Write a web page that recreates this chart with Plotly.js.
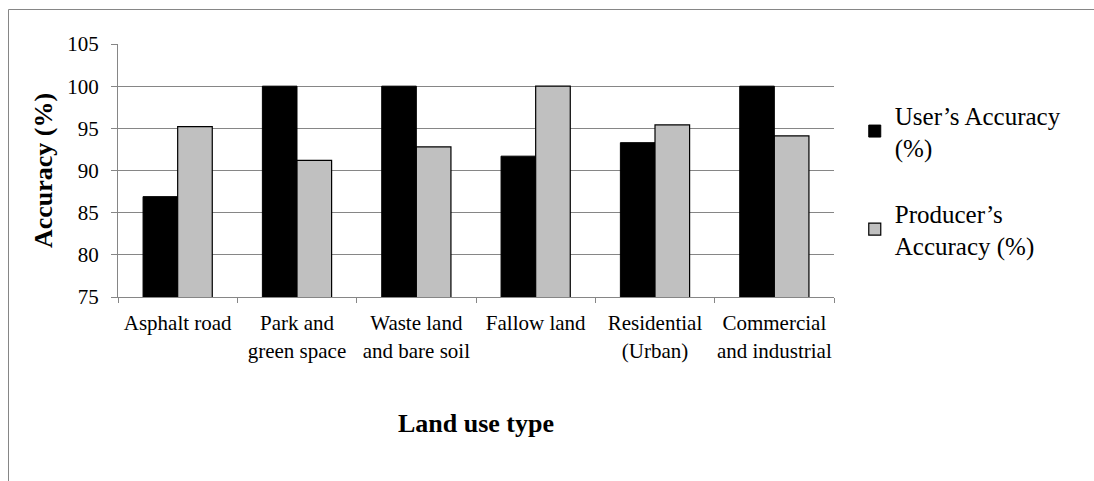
<!DOCTYPE html>
<html>
<head>
<meta charset="utf-8">
<script src="https://cdn.plot.ly/plotly-3.0.1.min.js"></script>
<style>
html,body{margin:0;padding:0;background:#fff;}
#chart{width:1094px;height:481px;}
</style>
</head>
<body>
<div id="chart"></div>
<script>
const categories = ["Asphalt road", "Park and<br>green space", "Waste land<br>and bare soil", "Fallow land", "Residential<br>(Urban)", "Commercial<br>and industrial"];
const usersAccuracy = [86.9, 100, 100, 91.7, 93.3, 100];
const producersAccuracy = [95.2, 91.2, 92.8, 100, 95.4, 94.1];
const seriesNames = ["User’s Accuracy<br>(%)", "Producer’s<br>Accuracy (%)"];

const L = 118, R = 260, T = 44, B = 184, W = 1094, H = 481;
const pw = W - L - R, ph = H - T - B;
const font = "Liberation Serif";

const traces = [
  {type: "bar", x: categories, y: usersAccuracy, name: seriesNames[0], legendgroup: "u",
   marker: {color: "#000000", line: {color: "#000000", width: 1}}},
  {type: "bar", x: categories, y: producersAccuracy, name: seriesNames[1], legendgroup: "p",
   marker: {color: "#C0C0C0", line: {color: "#000000", width: 1.2}}}
];

const layout = {
  width: W, height: H,
  margin: {l: L, r: R, t: T, b: B, pad: 0},
  paper_bgcolor: "#fff", plot_bgcolor: "#fff",
  font: {family: font, color: "#000", size: 21},
  barmode: "group", bargap: 0.42, bargroupgap: 0,
  showlegend: true,
  legend: {x: 1.029, xanchor: "left", y: 0.81, yanchor: "top",
           font: {family: font, size: 25, color: "#000"},
           tracegroupgap: 30, itemwidth: 30, bgcolor: "rgba(0,0,0,0)"},
  xaxis: {
    type: "category",
    showline: true, linecolor: "#868686", linewidth: 1,
    ticks: "outside", tickson: "boundaries", ticklen: 5, tickcolor: "#868686",
    ticklabelstandoff: 7, tickangle: 0,
    tickfont: {family: font, size: 21, color: "#000"},
    showgrid: false,
    title: {text: "<b>Land use type</b>", font: {family: font, size: 26, color: "#000"}, standoff: 52}
  },
  yaxis: {
    range: [75, 105], dtick: 5, tick0: 75,
    showline: true, linecolor: "#868686", linewidth: 1,
    ticks: "outside", ticklen: 6, tickcolor: "#868686",
    ticklabelstandoff: 8,
    tickfont: {family: font, size: 21, color: "#000"},
    showgrid: true, gridcolor: "#868686", gridwidth: 1,
    zeroline: false,
    title: {text: "<b>Accuracy (%)</b>", font: {family: font, size: 26, color: "#000"}, standoff: 7}
  },
  shapes: [{
    type: "rect", xref: "paper", yref: "paper",
    x0: (8.5 - L) / pw, x1: (W + 5 - L) / pw,
    y0: (H - B - (H + 5)) / ph, y1: (H - B - 9.5) / ph,
    line: {color: "#868686", width: 1}, fillcolor: "rgba(0,0,0,0)", layer: "below"
  }]
};

Plotly.newPlot("chart", traces, layout, {displayModeBar: false, staticPlot: true});
</script>
</body>
</html>
